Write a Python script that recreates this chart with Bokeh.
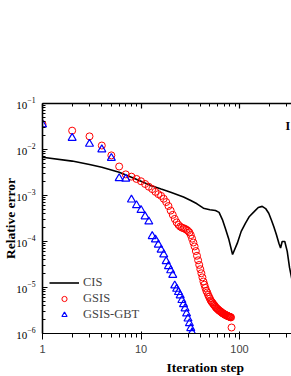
from bokeh.plotting import figure
from bokeh.models import (FixedTicker, LogAxis, PrintfTickFormatter, Legend,
                          LegendItem, Label, Title, CustomJSTickFormatter)
from bokeh.embed import file_html
from bokeh.resources import INLINE

# ---------------- data ----------------
gsis_iter = list(range(1, 84))
gsis_err = [
    3.55e-2, 2.57e-2, 1.93e-2, 1.22e-2, 7.45e-3, 4.27e-3, 2.88e-3, 2.57e-3, 2.29e-3, 2.04e-3,
    1.78e-3, 1.55e-3, 1.38e-3, 1.20e-3, 1.07e-3, 9.8e-4, 8.5e-4, 7.2e-4, 5.9e-4, 4.7e-4,
    3.8e-4, 3.1e-4, 2.6e-4, 2.3e-4, 2.11e-4, 2.0e-4, 1.95e-4, 1.88e-4, 1.80e-4, 1.70e-4,
    1.58e-4, 1.38e-4, 1.15e-4, 9.5e-5, 7.8e-5, 6.2e-5, 4.9e-5, 3.9e-5, 3.1e-5, 2.5e-5,
    2.04e-5, 1.66e-5, 1.35e-5, 1.15e-5, 9.8e-6, 8.5e-6, 7.8e-6, 6.9e-6, 6.3e-6, 5.75e-6,
    5.25e-6, 4.9e-6, 4.7e-6, 4.4e-6, 4.2e-6, 4.0e-6, 3.8e-6, 3.6e-6, 3.5e-6, 3.4e-6,
    3.27e-6, 3.16e-6, 3.09e-6, 3.02e-6, 2.95e-6, 2.85e-6, 2.79e-6, 2.72e-6, 2.69e-6, 2.63e-6,
    2.57e-6, 2.54e-6, 2.51e-6, 2.45e-6, 2.43e-6, 2.40e-6, 2.37e-6, 2.34e-6, 2.32e-6, 2.29e-6,
    2.26e-6, 2.24e-6, 1.35e-6,
]

gbt_iter = list(range(1, 34))
gbt_err = [
    3.5e-2, 1.78e-2, 1.32e-2, 1.0e-2, 6.5e-3, 2.36e-3, 2.3e-3, 8.1e-4, 6.1e-4, 4.8e-4,
    3.5e-4, 2.7e-4, 1.3e-4, 1.1e-4, 8.5e-5, 6.6e-5, 5.2e-5, 3.7e-5, 2.9e-5, 2.35e-5,
    1.86e-5, 1.1e-5, 9.3e-6, 7.9e-6, 6.7e-6, 5.3e-6, 4.3e-6, 3.5e-6, 2.7e-6, 2.1e-6,
    1.66e-6, 1.3e-6, 1.05e-6,
]

cis_iter = [1, 2, 3, 4, 6, 8, 10, 13, 16, 20, 27, 32, 37, 43, 50, 57, 62, 67, 72, 78,
            85, 95, 104, 115, 126, 140, 155, 170, 184, 198, 211, 223, 237, 251, 261,
            271, 288, 305, 322, 340]
cis_err = [6.8e-3, 5.6e-3, 4.7e-3, 4.1e-3, 3.2e-3, 2.5e-3, 2.05e-3, 1.6e-3, 1.38e-3, 1.18e-3,
           9.3e-4, 7.8e-4, 6.6e-4, 5.3e-4, 4.9e-4, 4.7e-4, 4.3e-4, 3.0e-4, 1.9e-4, 1.1e-4,
           5.2e-5, 9.2e-5, 1.66e-4, 2.5e-4, 3.5e-4, 4.4e-4, 5.5e-4, 5.8e-4, 5.2e-4, 4.1e-4,
           2.9e-4, 2.1e-4, 1.4e-4, 9.2e-5, 7.2e-5, 1.0e-4, 1.0e-4, 6.1e-5, 2.7e-5, 1.5e-5]

x_major = [1, 10, 100]
x_minor = [2, 3, 4, 5, 6, 7, 8, 9, 20, 30, 40, 50, 60, 70, 80, 90, 200, 300]
y_major = [1e-6, 1e-5, 1e-4, 1e-3, 1e-2, 1e-1]
y_minor = [m * d for d in [1e-6, 1e-5, 1e-4, 1e-3, 1e-2] for m in range(2, 10)]

FONT = "Liberation Serif"

p = figure(width=291, height=376, x_axis_type="log", y_axis_type="log",
           x_range=(1, 337), y_range=(1e-6, 1e-1),
           output_backend="svg", toolbar_location=None,
           min_border_left=42, min_border_right=0, min_border_top=103,
           min_border_bottom=39)
p.grid.visible = False
p.outline_line_color = None
p.background_fill_color = "white"

xt = FixedTicker(ticks=x_major, minor_ticks=x_minor)
yt = FixedTicker(ticks=y_major, minor_ticks=y_minor)
p.xaxis.ticker = xt
p.yaxis.ticker = yt
p.xaxis.formatter = PrintfTickFormatter(format="%d")

top = LogAxis(ticker=xt, formatter=CustomJSTickFormatter(code="return ''"),
              major_label_text_alpha=0)
p.add_layout(top, "above")

for ax in [p.xaxis[0], p.yaxis[0], top]:
    ax.axis_line_width = 1.6
    ax.axis_line_color = "black"
    ax.major_tick_in = 5
    ax.major_tick_out = 0
    ax.minor_tick_in = 3
    ax.minor_tick_out = 0
    ax.major_tick_line_width = 1.2
    ax.minor_tick_line_width = 1
    ax.major_tick_line_color = "black"
    ax.minor_tick_line_color = "black"
    ax.major_label_text_font = FONT
    ax.major_label_text_color = "black"
p.xaxis[0].major_label_text_font_size = "11px"
p.yaxis[0].major_label_text_font_size = "11px"
p.xaxis[0].major_label_standoff = 5
p.yaxis[0].major_label_standoff = 7

ya = p.yaxis[0]
ya.axis_label = "Relative error"
ya.axis_label_text_font = FONT
ya.axis_label_text_font_style = "bold"
ya.axis_label_text_font_size = "13.5px"
ya.axis_label_text_color = "black"
ya.axis_label_standoff = -5

r_cis = p.line(cis_iter, cis_err, line_color="black", line_width=1.6)
r_gsis = p.scatter(gsis_iter, gsis_err, marker="circle", size=7, fill_color=None,
                   line_color="red", line_width=1)
r_gbt = p.scatter(gbt_iter, gbt_err, marker="triangle", size=8, fill_color=None,
                  line_color="blue", line_width=1.2)

legend = Legend(items=[LegendItem(label="CIS", renderers=[r_cis]),
                       LegendItem(label="GSIS", renderers=[r_gsis]),
                       LegendItem(label="GSIS-GBT", renderers=[r_gbt])],
                location=(7, 11), padding=0, margin=0, spacing=1,
                glyph_width=30, glyph_height=13, label_height=13,
                label_standoff=4, label_text_font=FONT,
                label_text_font_size="12.5px", border_line_alpha=0,
                background_fill_alpha=0)
p.add_layout(legend, "center")

xtitle = Title(text="Iteration step", align="left", offset=124, standoff=4,
               text_font=FONT, text_font_style="bold", text_font_size="13.5px",
               text_color="black")
p.add_layout(xtitle, "below")

p.add_layout(Label(x=310, y=10 ** (-1.486), text="I",
                   text_align="center", text_baseline="middle",
                   text_font=FONT, text_font_style="bold", text_font_size="12px",
                   text_color="black"))

open("out.html", "w").write(file_html(p, INLINE))
